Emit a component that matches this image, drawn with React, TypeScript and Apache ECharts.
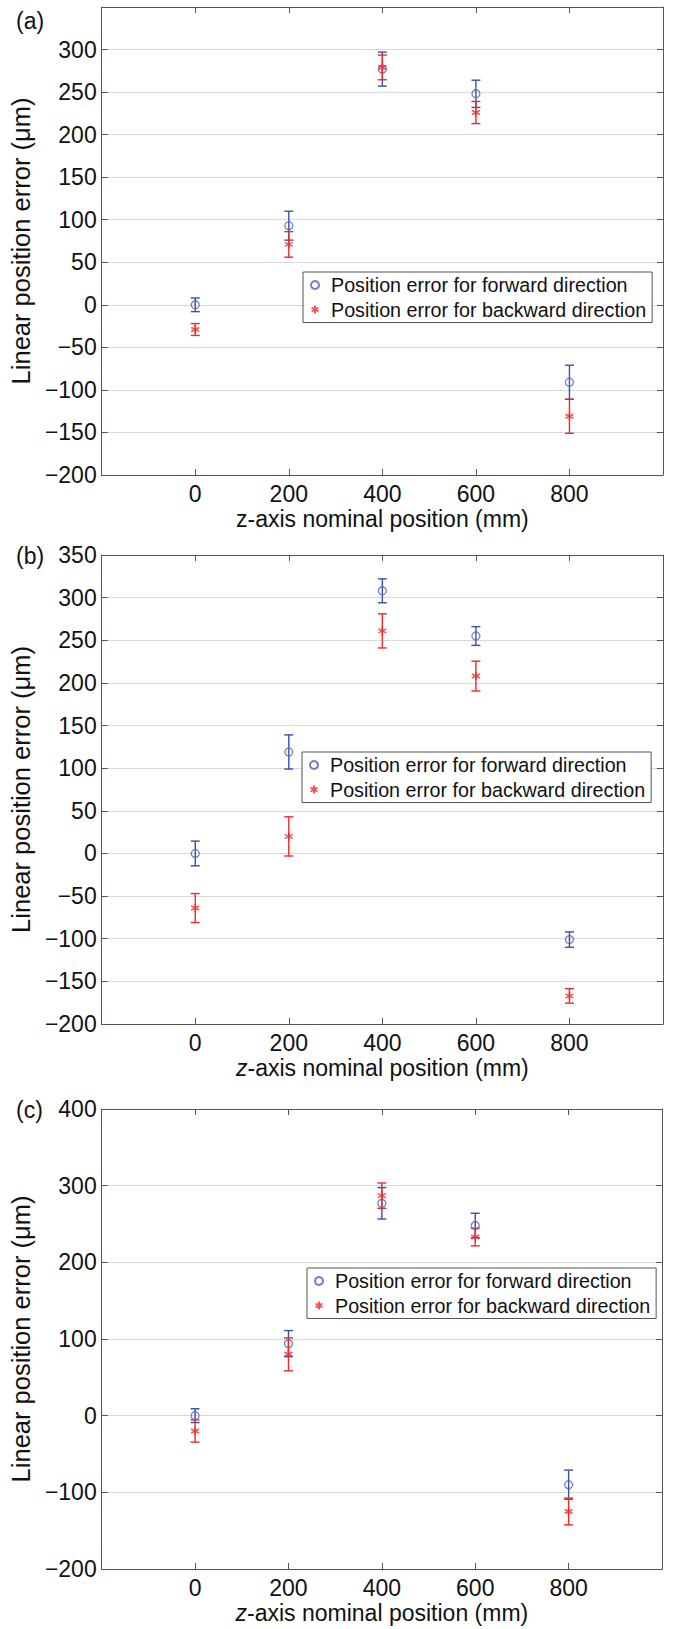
import React, { useEffect, useRef } from "react";
import * as echarts from "echarts";

// ---- data ----
const positions = [0, 200, 400, 600, 800];

const forwardA = [0, 93, 277, 248, -91];
const forwardErrA = [8, 17, 20, 16, 20];
const backwardA = [-29, 71, 279, 226, -131];
const backwardErrA = [7, 15, 14.5, 13, 20];

const forwardB = [0, 119, 308, 255, -101];
const forwardErrB = [14.5, 20, 14, 11, 9];
const backwardB = [-64, 20, 261, 208, -167];
const backwardErrB = [17, 23, 20, 17.5, 8.5];

const forwardC = [0, 94, 277, 248, -90];
const forwardErrC = [9, 17, 20.5, 16, 19];
const backwardC = [-20, 80, 287, 233, -125];
const backwardErrC = [14.5, 21.5, 16.5, 11.5, 17.5];

const panelLabels = ["(a)", "(b)", "(c)"];
const yRanges = [
  [-200, 350, 50],
  [-200, 350, 50],
  [-200, 400, 100],
];
const hiddenYLabels = [[350], [], []];
const xRange = [-200, 1000, 200];

const FWD_NAME = "Position error for forward direction";
const BWD_NAME = "Position error for backward direction";
const Y_TITLE = "Linear position error (\u03bcm)";

const FONT = "'Liberation Sans', Arial, Helvetica, sans-serif";
const BLUE = "#3b4ea8";
const BLUE_MARK = "#4d5fb8";
const RED = "#ee2a2a";
const AXIS = "#555";

const STAR = "path://M5,0L5,10M0.67,2.5L9.33,7.5M0.67,7.5L9.33,2.5";

const layout = [
  { left: 95, top: 7, width: 568, height: 468, legendLeft: 303, legendTop: 272, labelTop: 9 },
  { left: 95, top: 555, width: 568, height: 469, legendLeft: 302, legendTop: 752, labelTop: 544 },
  { left: 94, top: 1109, width: 568, height: 460, legendLeft: 307, legendTop: 1268, labelTop: 1098 },
];

const fmtNum = (v: number) => String(v).replace("-", "\u2212");

function errorBarSeries(name: string, color: string, xs: number[], ys: number[], errs: number[], idx: number) {
  return {
    type: "custom",
    name,
    xAxisIndex: idx * 2,
    yAxisIndex: idx * 2,
    encode: { x: 0, y: 1 },
    data: xs.map((x, k) => [x, ys[k], errs[k]]),
    z: 3,
    renderItem: (params: any, api: any) => {
      const x = api.value(0);
      const y = api.value(1);
      const e = api.value(2);
      const top = api.coord([x, y + e]);
      const bot = api.coord([x, y - e]);
      const w = 4.5;
      const style = { stroke: color, lineWidth: 1.4 };
      return {
        type: "group",
        children: [
          { type: "line", shape: { x1: top[0], y1: top[1], x2: bot[0], y2: bot[1] }, style },
          { type: "line", shape: { x1: top[0] - w, y1: top[1], x2: top[0] + w, y2: top[1] }, style },
          { type: "line", shape: { x1: bot[0] - w, y1: bot[1], x2: bot[0] + w, y2: bot[1] }, style },
        ],
      };
    },
  };
}

export default function App() {
  const ref = useRef<HTMLDivElement>(null);

  useEffect(() => {
    if (!ref.current) return;
    const chart = echarts.init(ref.current, null, { renderer: "svg" });

    const panels = [
      { fwd: forwardA, fwdErr: forwardErrA, bwd: backwardA, bwdErr: backwardErrA },
      { fwd: forwardB, fwdErr: forwardErrB, bwd: backwardB, bwdErr: backwardErrB },
      { fwd: forwardC, fwdErr: forwardErrC, bwd: backwardC, bwdErr: backwardErrC },
    ];

    const grid: any[] = [];
    const xAxis: any[] = [];
    const yAxis: any[] = [];
    const series: any[] = [];
    const legend: any[] = [];
    const graphic: any[] = [];

    panels.forEach((p, i) => {
      const L = layout[i];
      grid.push({ left: L.left, top: L.top, width: L.width, height: L.height, containLabel: false });
      const tick = { show: true, inside: true, length: 6, lineStyle: { color: AXIS, width: 1 } };
      const line = { show: true, onZero: false, lineStyle: { color: AXIS, width: 1 } };
      xAxis.push({
        type: "value",
        gridIndex: i,
        position: "bottom",
        min: xRange[0],
        max: xRange[1],
        interval: xRange[2],
        axisLine: line,
        axisTick: tick,
        splitLine: { show: false },
        axisLabel: {
          color: "#111",
          fontSize: 23,
          fontFamily: FONT,
          margin: 7,
          formatter: (v: number) => (v < 0 || v > 800 ? "" : fmtNum(v)),
        },
        name: i === 0 ? "z-axis nominal position (mm)" : "{i|z}-axis nominal position (mm)",
        nameLocation: "middle",
        nameGap: 32,
        nameTextStyle: {
          color: "#111",
          fontSize: 23,
          fontFamily: FONT,
          rich: { i: { fontStyle: "italic", fontSize: 23, fontFamily: FONT, color: "#111" } },
        },
      });
      xAxis.push({
        type: "value",
        gridIndex: i,
        position: "top",
        min: xRange[0],
        max: xRange[1],
        interval: xRange[2],
        axisLine: line,
        axisTick: tick,
        splitLine: { show: false },
        axisLabel: { show: false },
      });
      const [ymin, ymax, yint] = yRanges[i];
      yAxis.push({
        type: "value",
        gridIndex: i,
        position: "left",
        min: ymin,
        max: ymax,
        interval: yint,
        axisLine: line,
        axisTick: tick,
        splitLine: { show: true, lineStyle: { color: "#b4b4b4", type: "dotted", width: 1 } },
        axisLabel: {
          color: "#111",
          fontSize: 23,
          fontFamily: FONT,
          margin: 5,
          formatter: (v: number) => (hiddenYLabels[i].includes(v) ? "" : fmtNum(v)),
        },
        name: Y_TITLE,
        nameLocation: "middle",
        nameGap: 55,
        nameTextStyle: { color: "#111", fontSize: 25.5, fontFamily: FONT },
      });
      yAxis.push({
        type: "value",
        gridIndex: i,
        position: "right",
        min: ymin,
        max: ymax,
        interval: yint,
        axisLine: line,
        axisTick: tick,
        splitLine: { show: false },
        axisLabel: { show: false },
      });

      series.push(errorBarSeries("fwdbar" + i, BLUE, positions, p.fwd, p.fwdErr, i));
      series.push({
        type: "scatter",
        name: FWD_NAME,
        xAxisIndex: i * 2,
        yAxisIndex: i * 2,
        data: positions.map((x, k) => [x, p.fwd[k]]),
        symbol: "circle",
        symbolSize: 8,
        z: 4,
        itemStyle: { color: "rgba(255,255,255,0)", borderColor: BLUE_MARK, borderWidth: 1.3 },
      });
      series.push(errorBarSeries("bwdbar" + i, RED, positions, p.bwd, p.bwdErr, i));
      series.push({
        type: "scatter",
        name: BWD_NAME,
        xAxisIndex: i * 2,
        yAxisIndex: i * 2,
        data: positions.map((x, k) => [x, p.bwd[k]]),
        symbol: STAR,
        symbolSize: 8,
        z: 5,
        itemStyle: { color: RED, borderColor: RED, borderWidth: 1.6 },
      });

      legend.push({
        orient: "vertical",
        left: L.legendLeft,
        top: L.legendTop,
        padding: [3, 6, 3, 7],
        itemWidth: 22,
        itemHeight: 8,
        itemGap: 4.5,
        borderColor: AXIS,
        borderWidth: 1,
        backgroundColor: "#fff",
        selectedMode: false,
        textStyle: { fontSize: 19.7, fontFamily: FONT, color: "#111" },
        data: [FWD_NAME, BWD_NAME],
      });

      graphic.push({
        type: "text",
        left: 16,
        top: L.labelTop,
        style: { text: panelLabels[i], fontSize: 23, fontFamily: FONT, fill: "#111" },
      });
    });

    chart.setOption({
      animation: false,
      backgroundColor: "#fff",
      grid,
      xAxis,
      yAxis,
      series,
      legend,
      graphic,
    });

    return () => chart.dispose();
  }, []);

  return (
    <div
      ref={ref}
      style={{ position: "absolute", left: 0, top: 0, width: 673, height: 1629, background: "#fff" }}
    />
  );
}
